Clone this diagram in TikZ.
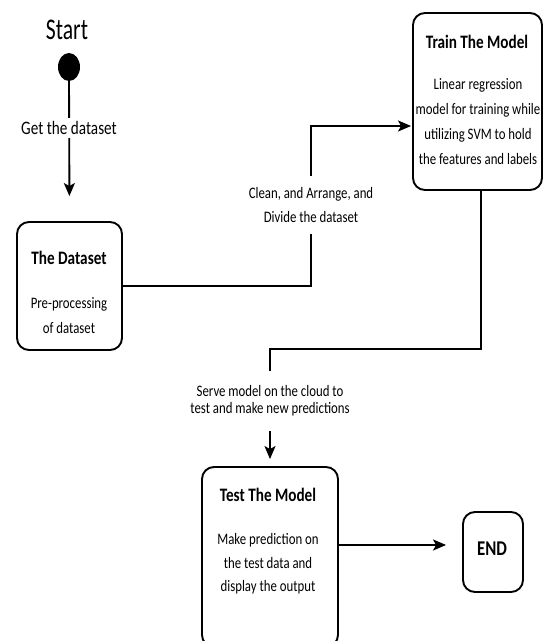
\documentclass[tikz,border=0pt]{standalone}
\usepackage{fontspec}
\setmainfont{Carlito}[FakeStretch=0.8]
\newfontfamily\startfont{Carlito}[FakeStretch=0.72]
\usetikzlibrary{arrows.meta,shapes.geometric}
\begin{document}
\begin{tikzpicture}[x=1pt,y=-1pt,
  box/.style={draw, line width=1.9pt, rounded corners=12pt, inner sep=0pt},
  conn/.style={line width=1.9pt},
  arr/.style={conn, -{Stealth[length=13pt,width=11pt,inset=3pt]}},
  lbl/.style={fill=white, inner xsep=2pt, align=center, font=\fontsize{16}{18}\selectfont},
  ttl/.style={font=\bfseries\fontsize{19}{22}\selectfont},
  body/.style={align=center, font=\fontsize{16}{25}\selectfont}]
\useasboundingbox (0,0) rectangle (543,641);
\clip (0,0) rectangle (543,641);
% nodes
\node[font=\startfont\fontsize{30}{32}\selectfont] (starttxt) at (67,30) {Start};
\node[ellipse, fill=black, minimum width=22pt, minimum height=28pt, inner sep=0pt] (startdot) at (69,67) {};
\node[box, minimum width=105pt, minimum height=128pt] (ds) at (69.5,286) {};
\node[ttl] (dsT) at (69,258) {The Dataset};
\node[body] (dsB) at (69,316) {Pre-processing\\of dataset};
\node[box, minimum width=129pt, minimum height=177pt] (train) at (477.5,101.5) {};
\node[ttl] (trT) at (477,42) {Train The Model};
\node[body] (trB) at (478,122) {Linear regression\\model for training while\\utilizing SVM to hold\\the features and labels};
\node[box, minimum width=136pt, minimum height=180pt] (test) at (270,557) {};
\node[ttl] (teT) at (268,495) {Test The Model};
\node[body, font=\fontsize{16}{23.5}\selectfont] (teB) at (268,564) {Make prediction on\\the test data and\\display the output};
\node[box, minimum width=60pt, minimum height=80pt] (endn) at (493,552) {};
\node[font=\bfseries\fontsize{21}{24}\selectfont] (endT) at (492,549) {END};
% connectors
\draw[arr, shorten >=25pt] (startdot.south) -- (ds.north);
\node[lbl, inner ysep=3pt, font=\fontsize{19}{21}\selectfont] (getlbl) at (69,128) {Get the dataset};
\coordinate (j1) at (311,126);
\draw[arr, shorten >=1pt] (ds.east) -| (j1) -- (train.west |- j1);
\node[lbl, inner ysep=11pt, font=\fontsize{16}{24}\selectfont] (cleanlbl) at (311,205) {Clean, and Arrange, and\\Divide the dataset};
\coordinate (j2) at (481,349);
\coordinate (j3) at (270,349);
\draw[arr, shorten >=7pt] (train.south -| j2) -- (j2) -- (j3) -- (test.north);
\node[lbl, inner ysep=15pt, font=\fontsize{16}{17}\selectfont] (servelbl) at (270,401) {Serve model on the cloud to\\test and make new predictions};
\coordinate (j4) at (340,545);
\draw[arr, shorten >=16pt] (test.east |- j4) -- (endn.west |- j4);
\end{tikzpicture}
\end{document}
